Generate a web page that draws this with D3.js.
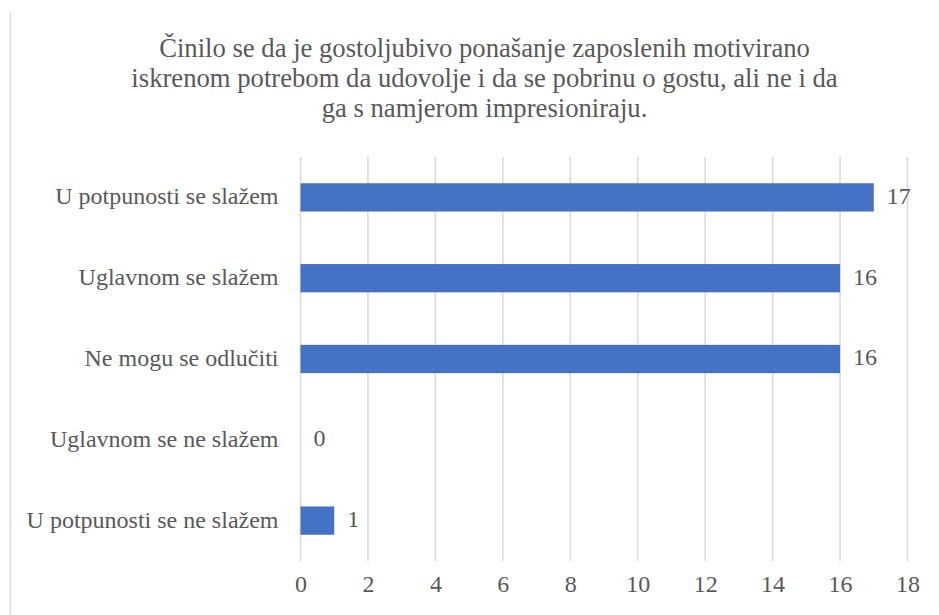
<!DOCTYPE html>
<html>
<head>
<meta charset="utf-8">
<script src="https://cdn.jsdelivr.net/npm/d3@7"></script>
</head>
<body style="margin:0; background:#fff">
<svg width="939" height="615"></svg>
<script>
const categories = ['U potpunosti se slažem', 'Uglavnom se slažem', 'Ne mogu se odlučiti', 'Uglavnom se ne slažem', 'U potpunosti se ne slažem']
const values = [17, 16, 16, 0, 1]
const ticks = [0, 2, 4, 6, 8, 10, 12, 14, 16, 18]
const titleLines = [
  'Činilo se da je gostoljubivo ponašanje zaposlenih motivirano',
  'iskrenom potrebom da udovolje i da se pobrinu o gostu, ali ne i da',
  'ga s namjerom impresioniraju.'
]

const font = '"Liberation Serif"'
const grey = '#595959'

let svg = d3.select('svg')

// outer frame edge on the left
svg.append('line')
  .attr('x1', 10.5).attr('x2', 10.5)
  .attr('y1', 12).attr('y2', 615)
  .attr('stroke', '#d9d9d9').attr('stroke-width', 1.5)

svg.append('g')
  .selectAll('text')
  .data(titleLines)
  .enter().append('text')
  .attr('x', 484.5)
  .attr('y', (d, i) => 57.3 + i * 29.6)
  .attr('text-anchor', 'middle')
  .style('font-family', font)
  .style('font-size', '26.67px')
  .style('fill', grey)
  .text(d => d)

let x = d3.scaleLinear().domain([0, 18]).range([300.5, 907.5])
let y = d3.scaleBand().domain(categories).range([157, 561]).paddingInner(0.65).paddingOuter(0.325)

svg.append('g')
  .selectAll('line')
  .data(ticks)
  .enter().append('line')
  .attr('x1', d => x(d)).attr('x2', d => x(d))
  .attr('y1', 157).attr('y2', 561)
  .attr('stroke', '#d9d9d9').attr('stroke-width', 1.5)

let xAxis = svg.append('g')
  .attr('transform', 'translate(0,561)')
  .call(d3.axisBottom(x).tickValues(ticks).tickSize(0).tickPadding(13.7))
xAxis.select('.domain').remove()
xAxis.selectAll('text')
  .style('font-family', font).style('font-size', '24px').style('fill', grey)

let yAxis = svg.append('g')
  .attr('transform', 'translate(300.5,0)')
  .call(d3.axisLeft(y).tickSize(0).tickPadding(22))
yAxis.select('.domain').remove()
yAxis.selectAll('text')
  .attr('dy', '0.29em')
  .style('font-family', font).style('font-size', '24px').style('fill', grey)

svg.append('g')
  .selectAll('rect')
  .data(values)
  .enter().append('rect')
  .attr('x', x(0))
  .attr('y', (d, i) => y(categories[i]))
  .attr('width', d => x(d) - x(0))
  .attr('height', y.bandwidth())
  .attr('fill', '#4472c4')

svg.append('g')
  .selectAll('text')
  .data(values)
  .enter().append('text')
  .attr('x', d => x(d) + 13)
  .attr('y', (d, i) => y(categories[i]) + y.bandwidth() / 2)
  .attr('dy', '0.27em')
  .style('font-family', font).style('font-size', '24px').style('fill', grey)
  .text(d => d)
</script>
</body>
</html>
